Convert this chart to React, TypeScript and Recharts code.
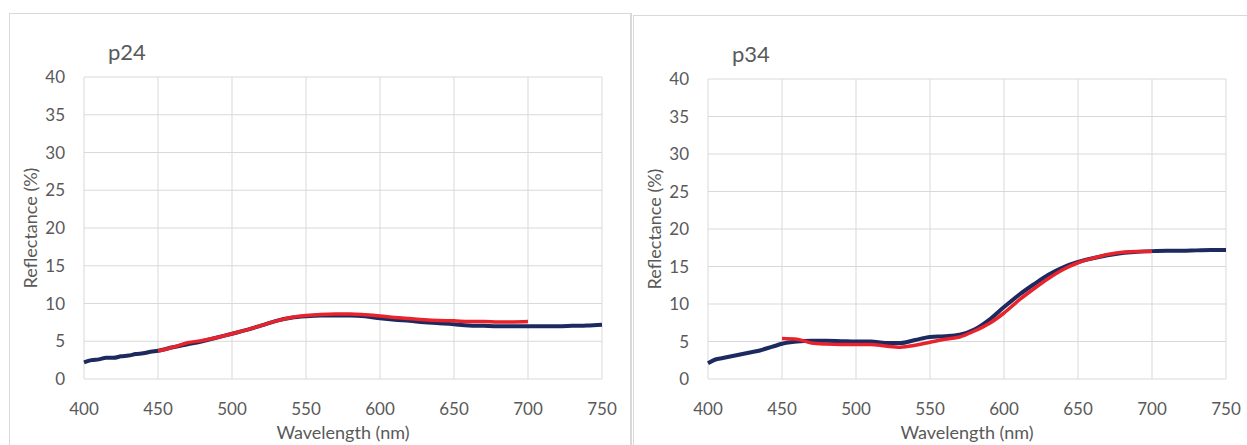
import React from 'react';
import { LineChart, Line, XAxis, YAxis, CartesianGrid, Label } from 'recharts';

const xTicks = [400, 450, 500, 550, 600, 650, 700, 750];
const yTicks = [0, 5, 10, 15, 20, 25, 30, 35, 40];

// p24 – measured (navy) and fitted (red)
const p24Measured = [
  { wl: 400, r: 2.2 }, { wl: 405, r: 2.5 }, { wl: 410, r: 2.6 }, { wl: 415, r: 2.8 },
  { wl: 420, r: 2.8 }, { wl: 425, r: 3.0 }, { wl: 430, r: 3.1 }, { wl: 435, r: 3.3 },
  { wl: 440, r: 3.4 }, { wl: 445, r: 3.6 }, { wl: 450, r: 3.75 }, { wl: 460, r: 4.2 },
  { wl: 470, r: 4.6 }, { wl: 480, r: 5.0 }, { wl: 490, r: 5.5 }, { wl: 500, r: 6.0 },
  { wl: 510, r: 6.5 }, { wl: 520, r: 7.1 }, { wl: 530, r: 7.7 }, { wl: 540, r: 8.1 },
  { wl: 550, r: 8.3 }, { wl: 560, r: 8.4 }, { wl: 570, r: 8.4 }, { wl: 580, r: 8.4 },
  { wl: 590, r: 8.3 }, { wl: 600, r: 8.05 }, { wl: 610, r: 7.85 }, { wl: 620, r: 7.7 },
  { wl: 630, r: 7.5 }, { wl: 640, r: 7.4 }, { wl: 650, r: 7.25 }, { wl: 660, r: 7.1 },
  { wl: 670, r: 7.05 }, { wl: 680, r: 7.0 }, { wl: 690, r: 7.0 }, { wl: 700, r: 6.98 },
  { wl: 710, r: 7.0 }, { wl: 720, r: 7.0 }, { wl: 730, r: 7.05 }, { wl: 740, r: 7.1 },
  { wl: 750, r: 7.2 },
];
const p24Fit = [
  { wl: 450, r: 3.7 }, { wl: 460, r: 4.2 }, { wl: 470, r: 4.8 }, { wl: 480, r: 5.1 },
  { wl: 490, r: 5.5 }, { wl: 500, r: 6.0 }, { wl: 510, r: 6.5 }, { wl: 520, r: 7.1 },
  { wl: 530, r: 7.7 }, { wl: 540, r: 8.15 }, { wl: 550, r: 8.4 }, { wl: 560, r: 8.55 },
  { wl: 570, r: 8.6 }, { wl: 580, r: 8.6 }, { wl: 590, r: 8.5 }, { wl: 600, r: 8.35 },
  { wl: 610, r: 8.15 }, { wl: 620, r: 8.0 }, { wl: 630, r: 7.85 }, { wl: 640, r: 7.75 },
  { wl: 650, r: 7.7 }, { wl: 660, r: 7.6 }, { wl: 670, r: 7.6 }, { wl: 680, r: 7.55 },
  { wl: 690, r: 7.55 }, { wl: 700, r: 7.6 },
];

// p34
const p34Measured = [
  { wl: 400, r: 2.1 }, { wl: 405, r: 2.6 }, { wl: 410, r: 2.8 }, { wl: 415, r: 3.0 },
  { wl: 420, r: 3.2 }, { wl: 425, r: 3.4 }, { wl: 430, r: 3.6 }, { wl: 435, r: 3.8 },
  { wl: 440, r: 4.1 }, { wl: 445, r: 4.4 }, { wl: 450, r: 4.7 }, { wl: 460, r: 5.0 },
  { wl: 470, r: 5.1 }, { wl: 480, r: 5.1 }, { wl: 490, r: 5.05 }, { wl: 500, r: 5.0 },
  { wl: 510, r: 5.0 }, { wl: 520, r: 4.8 }, { wl: 530, r: 4.8 }, { wl: 540, r: 5.2 },
  { wl: 550, r: 5.6 }, { wl: 560, r: 5.7 }, { wl: 570, r: 5.9 }, { wl: 580, r: 6.6 },
  { wl: 590, r: 7.9 }, { wl: 600, r: 9.6 }, { wl: 610, r: 11.2 }, { wl: 620, r: 12.6 },
  { wl: 630, r: 13.9 }, { wl: 640, r: 14.9 }, { wl: 650, r: 15.6 }, { wl: 660, r: 16.1 },
  { wl: 670, r: 16.5 }, { wl: 680, r: 16.8 }, { wl: 690, r: 16.95 }, { wl: 700, r: 17.05 },
  { wl: 710, r: 17.1 }, { wl: 720, r: 17.1 }, { wl: 730, r: 17.15 }, { wl: 740, r: 17.2 },
  { wl: 750, r: 17.2 },
];
const p34Fit = [
  { wl: 450, r: 5.4 }, { wl: 460, r: 5.3 }, { wl: 470, r: 4.8 }, { wl: 480, r: 4.65 },
  { wl: 490, r: 4.6 }, { wl: 500, r: 4.6 }, { wl: 510, r: 4.6 }, { wl: 520, r: 4.4 },
  { wl: 530, r: 4.25 }, { wl: 540, r: 4.5 }, { wl: 550, r: 4.9 }, { wl: 560, r: 5.3 },
  { wl: 570, r: 5.6 }, { wl: 580, r: 6.4 }, { wl: 590, r: 7.4 }, { wl: 600, r: 8.8 },
  { wl: 610, r: 10.5 }, { wl: 620, r: 12.0 }, { wl: 630, r: 13.4 }, { wl: 640, r: 14.6 },
  { wl: 650, r: 15.5 }, { wl: 660, r: 16.1 }, { wl: 670, r: 16.6 }, { wl: 680, r: 16.9 },
  { wl: 690, r: 17.0 }, { wl: 700, r: 17.0 },
];

const FONT = 'Lato, "Open Sans", sans-serif';
const TEXT = '#595959';
const NAVY = '#1d2a60';
const RED = '#e8232b';

function Panel({ title, measured, fit, width, height, margin }: any) {
  return (
    <div style={{ position: 'relative', width, height }}>
      <div style={{ position: 'absolute', left: 98, top: 24, fontFamily: FONT, fontSize: 22, color: TEXT }}>
        {title}
      </div>
      <LineChart width={width} height={height} margin={margin}>
        <CartesianGrid stroke="#d9d9d9" strokeWidth={1} />
        <XAxis
          type="number"
          dataKey="wl"
          domain={[400, 750]}
          ticks={xTicks}
          axisLine={false}
          tickLine={false}
          tickSize={22}
          height={50}
          tick={{ fill: TEXT, fontSize: 17, fontFamily: FONT }}
        >
          <Label value="Wavelength (nm)" position="insideBottom" offset={-10} fill={TEXT} fontSize={18} fontFamily={FONT} />
        </XAxis>
        <YAxis
          type="number"
          dataKey="r"
          domain={[0, 40]}
          ticks={yTicks}
          axisLine={false}
          tickLine={false}
          tickSize={17}
          width={44}
          tick={{ fill: TEXT, fontSize: 17, fontFamily: FONT }}
        >
          <Label value="Reflectance (%)" angle={-90} position="left" offset={9} fill={TEXT} fontSize={18} fontFamily={FONT} style={{ textAnchor: 'middle' }} />
        </YAxis>
        <Line data={measured} dataKey="r" type="monotone" stroke={NAVY} strokeWidth={4} dot={false} isAnimationActive={false} />
        <Line data={fit} dataKey="r" type="monotone" stroke={RED} strokeWidth={3.5} dot={false} isAnimationActive={false} />
      </LineChart>
    </div>
  );
}

export default function App() {
  return (
    <div style={{ position: 'absolute', left: 0, top: 0, width: 1247, height: 445, overflow: 'hidden', background: '#fff' }}>
      <div style={{ position: 'absolute', left: 9, top: 13, width: 620, height: 440, border: '1px solid #d9d9d9', borderRightWidth: 2 }}>
        <Panel
          title="p24"
          measured={p24Measured}
          fit={p24Fit}
          width={620}
          height={431}
          margin={{ top: 63, right: 28, bottom: 16, left: 30 }}
        />
      </div>
      <div style={{ position: 'absolute', left: 633, top: 15, width: 640, height: 440, border: '1px solid #d9d9d9' }}>
        <Panel
          title="p34"
          measured={p34Measured}
          fit={p34Fit}
          width={614}
          height={429}
          margin={{ top: 63, right: 22, bottom: 16, left: 30 }}
        />
      </div>
    </div>
  );
}
